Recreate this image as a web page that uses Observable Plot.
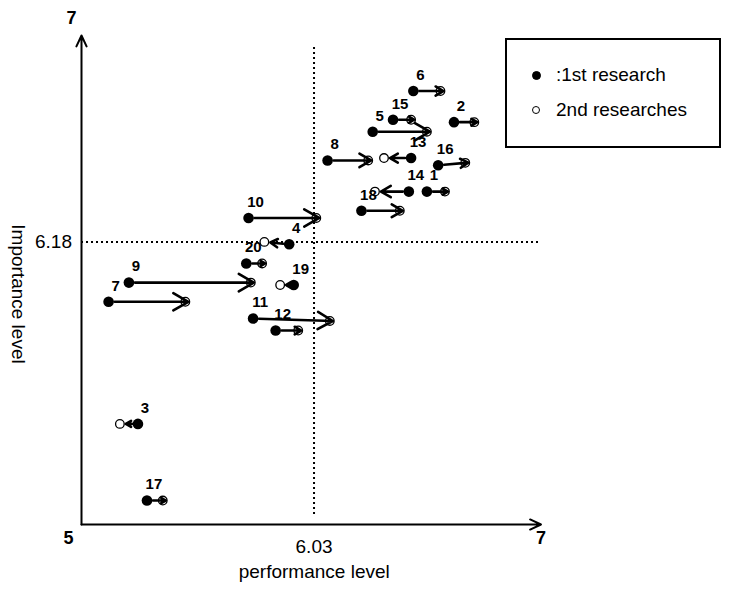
<!DOCTYPE html>
<html>
<head>
<meta charset="utf-8">
<script src="https://cdn.jsdelivr.net/npm/d3@7"></script>
<script src="https://cdn.jsdelivr.net/npm/@observablehq/plot@0.6"></script>
<style>
  body { margin: 0; background: #fff; }
  #wrap { position: relative; width: 734px; height: 590px; font-family: "Liberation Sans", Arial, sans-serif; }
  #legend { position: absolute; left: 505px; top: 38px; width: 216px; height: 110px; box-sizing: border-box; border: 2px solid #000; background: #fff; }
  .item { position: absolute; left: 0; font-size: 19px; color: #000; white-space: nowrap; }
  .sym { position: absolute; border-radius: 50%; box-sizing: border-box; }
  .txt { position: absolute; left: 49px; line-height: 20px; }
</style>
</head>
<body>
<div id="wrap"></div>
<script>
// ---- data ----
const ids    = [1, 2, 3, 4, 5, 6, 7, 8, 9, 10, 11, 12, 13, 14, 15, 16, 17, 18, 19, 20];
// 1st research
const perf1  = [6.53, 6.65, 5.25, 5.92, 6.29, 6.47, 5.12, 6.09, 5.21, 5.74, 5.76, 5.86, 6.46, 6.45, 6.38, 6.58, 5.29, 6.24, 5.94, 5.73];
const imp1   = [6.39, 6.68, 5.42, 6.17, 6.64, 6.81, 5.93, 6.52, 6.01, 6.28, 5.86, 5.81, 6.53, 6.39, 6.69, 6.50, 5.10, 6.31, 6.00, 6.09];
// 2nd researches
const perf2  = [6.61, 6.74, 5.17, 5.81, 6.53, 6.59, 5.46, 6.27, 5.75, 6.04, 6.10, 5.96, 6.34, 6.30, 6.46, 6.70, 5.36, 6.41, 5.88, 5.80];
const imp2   = [6.39, 6.68, 5.42, 6.18, 6.64, 6.81, 5.93, 6.52, 6.01, 6.28, 5.85, 5.81, 6.53, 6.39, 6.69, 6.51, 5.10, 6.31, 6.00, 6.09];

const xDomain = [5, 7];
const yDomain = [5, 7];
const xMean = [6.03];
const yMean = [6.18];
const xLabel = "performance level";
const yLabel = "Importance level";
const legendLabels = [":1st research", "2nd researches"];

const rows = ids.map((id, i) => ({id, p1: perf1[i], i1: imp1[i], p2: perf2[i], i2: imp2[i]}));
const right = rows.filter(d => d.p2 >= d.p1);
const left = rows.filter(d => d.p2 < d.p1);

const font = "'Liberation Sans', Arial, sans-serif";

const chart = Plot.plot({
  width: 734,
  height: 590,
  marginLeft: 81,
  marginRight: 201.5,
  marginTop: 45,
  marginBottom: 66,
  style: {fontFamily: font, background: "transparent", overflow: "visible"},
  x: {domain: xDomain, axis: null},
  y: {domain: yDomain, axis: null},
  marks: [
    // quadrant dotted lines
    Plot.ruleX(xMean, {x: d => d, y1: yDomain[0], y2: yDomain[1], insetTop: -10, stroke: "#000", strokeWidth: 2, strokeDasharray: "2,3"}),
    Plot.ruleY(yMean, {y: d => d, x1: xDomain[0], x2: xDomain[1], insetRight: -6, stroke: "#000", strokeWidth: 2, strokeDasharray: "2,3"}),
    // axes with arrow heads
    Plot.arrow([xDomain], {x1: d => d[0], x2: d => d[1], y1: yDomain[0], y2: yDomain[0], insetEnd: -8, stroke: "#000", strokeWidth: 2, headLength: 9, headAngle: 50}),
    Plot.arrow([yDomain], {y1: d => d[0], y2: d => d[1], x1: xDomain[0], x2: xDomain[0], insetEnd: -10, stroke: "#000", strokeWidth: 2, headLength: 9, headAngle: 50}),
    // tick labels
    Plot.text(xMean, {x: d => d, y: yDomain[0], text: d => d.toFixed(2), dy: 22, fontSize: 19}),
    Plot.text(yMean, {y: d => d, x: xDomain[0], text: d => d.toFixed(2), dx: -28, fontSize: 19}),
    Plot.text([xDomain[0]], {x: d => d, y: yDomain[0], text: d => String(d), dx: -13, dy: 14, fontSize: 18, fontWeight: "bold"}),
    Plot.text([xDomain[1]], {x: d => d, y: yDomain[0], text: d => String(d), dx: 8, dy: 14, fontSize: 18, fontWeight: "bold"}),
    Plot.text([yDomain[1]], {x: xDomain[0], y: d => d, text: d => String(d), dx: -10, dy: -27, fontSize: 18, fontWeight: "bold"}),
    // axis titles
    Plot.text([xLabel], {frameAnchor: "bottom", text: d => d, dx: 7, dy: 53, fontSize: 19}),
    Plot.text([yLabel], {frameAnchor: "left", textAnchor: "middle", text: d => d, dx: -63, dy: 9, rotate: 90, fontSize: 19}),
    // points
    Plot.dot(rows, {x: "p2", y: "i2", r: 4.3, fill: "white", stroke: "#000", strokeWidth: 1.3}),
    Plot.dot(rows, {x: "p1", y: "i1", r: 5.3, fill: "#000"}),
    // movement arrows
    Plot.arrow(right, {x1: "p1", y1: "i1", x2: "p2", y2: "i2", insetStart: 6, insetEnd: -3, stroke: "#000", strokeWidth: 2.6, headLength: 10, headAngle: 60}),
    Plot.arrow(left, {x1: "p1", y1: "i1", x2: "p2", y2: "i2", insetStart: 6, insetEnd: 6, stroke: "#000", strokeWidth: 2.6, headLength: 10, headAngle: 60}),
    // point numbers
    Plot.text(rows, {x: "p1", y: "i1", text: d => String(d.id), dx: 7, dy: -16, fontSize: 15, fontWeight: "bold"})
  ]
});

const wrap = document.getElementById("wrap");
wrap.appendChild(chart);
chart.style.position = "absolute";
chart.style.left = "0px";
chart.style.top = "0px";

// legend
const legend = document.createElement("div");
legend.id = "legend";
const styles = [
  {top: 25, fill: "#000", stroke: "#000", size: 9},
  {top: 60, fill: "#fff", stroke: "#000", size: 8}
];
legendLabels.forEach((lab, i) => {
  const s = styles[i];
  const sym = document.createElement("div");
  sym.className = "sym";
  sym.style.left = (29 - s.size / 2) + "px";
  sym.style.top = (s.top + 10 - s.size / 2) + "px";
  sym.style.width = s.size + "px";
  sym.style.height = s.size + "px";
  sym.style.background = s.fill;
  sym.style.border = "1.3px solid " + s.stroke;
  legend.appendChild(sym);
  const t = document.createElement("div");
  t.className = "item txt";
  t.style.top = s.top + "px";
  t.textContent = lab;
  legend.appendChild(t);
});
wrap.appendChild(legend);
</script>
</body>
</html>
